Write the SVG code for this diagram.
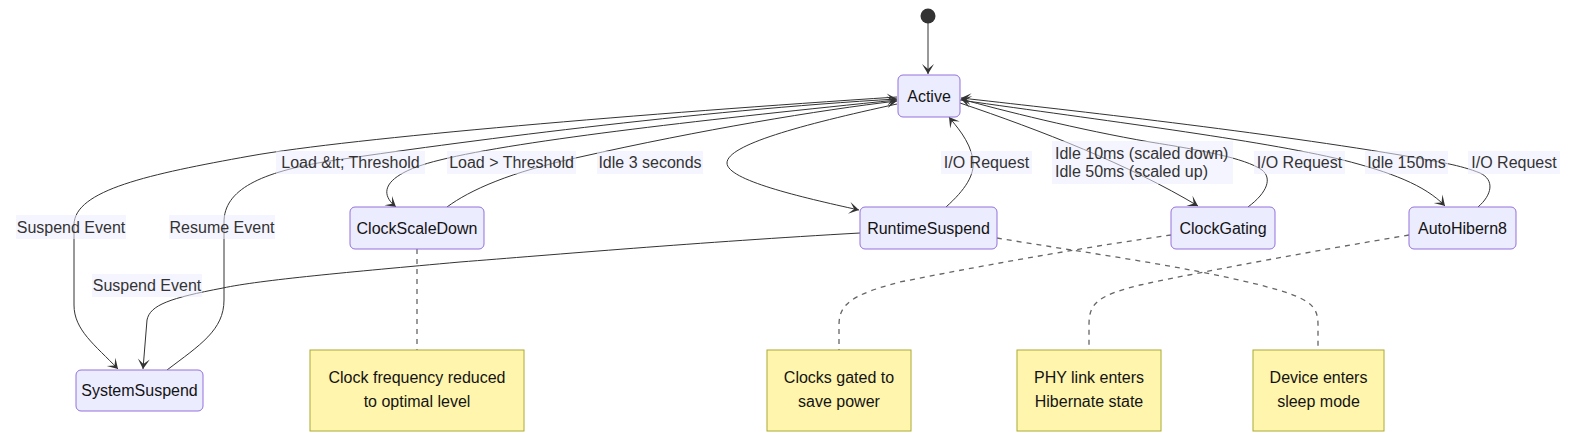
<svg xmlns="http://www.w3.org/2000/svg" width="1571" height="444" viewBox="0 0 1571 444">
<style>
.state rect{fill:#ECECFF;stroke:#9370DB;stroke-width:1}
.note rect{fill:#fff5ad;stroke:#aaaa33;stroke-width:1}
text{font-family:"Trebuchet MS","Liberation Sans",Arial,sans-serif;font-size:16px;dominant-baseline:central}
.state text,.note text{fill:#131313;text-anchor:middle}
.edge{fill:none;stroke:#333;stroke-width:1}
.notelink{fill:none;stroke:#666;stroke-width:1.3;stroke-dasharray:5,5}
.lbl rect{fill:#ECECFF;opacity:0.55}
.lbl text{fill:#333;text-anchor:middle}
</style>
<defs>
<marker id="arr" viewBox="0 0 20 14" refX="19" refY="7" markerWidth="20" markerHeight="14" markerUnits="userSpaceOnUse" orient="auto">
<path d="M19,7 L9,13 L14,7 L9,1 Z" fill="#333"/>
</marker>
</defs>
<g id="connectors">
<path class="edge" d="M928,23 L928,74" marker-end="url(#arr)"/>
<path class="edge" d="M897,97 C650,113 350,138 250,156 C150,174 74,190 74,225 L74,305 C74,330 95,345 118,369" marker-end="url(#arr)"/>
<path class="edge" d="M167,370 C200,345 224,330 224,300 L224,222 C224,190 260,172 330,161 C450,143 700,110 897,99" marker-end="url(#arr)"/>
<path class="edge" d="M897,100 C720,118 520,140 440,160 C390,172 375,190 396,207" marker-end="url(#arr)"/>
<path class="edge" d="M447,207 C470,190 510,172 580,157 C700,130 820,110 897,101" marker-end="url(#arr)"/>
<path class="edge" d="M897,104 C800,125 727,145 727,163 C727,180 800,197 859,210" marker-end="url(#arr)"/>
<path class="edge" d="M946,207 C965,190 975,175 973,160 C970,140 955,125 949,117" marker-end="url(#arr)"/>
<path class="edge" d="M960,103 C1040,130 1130,165 1198,206" marker-end="url(#arr)"/>
<path class="edge" d="M1248,207 C1268,192 1272,178 1262,170 C1245,158 1200,150 1150,142 C1080,130 1000,110 961,99" marker-end="url(#arr)"/>
<path class="edge" d="M960,100 C1100,120 1260,140 1343,160 C1390,172 1425,185 1445,206" marker-end="url(#arr)"/>
<path class="edge" d="M1478,207 C1492,195 1495,180 1480,173 C1460,165 1440,162 1400,155 C1250,130 1050,108 961,98" marker-end="url(#arr)"/>
<path class="edge" d="M860,233 C700,242 550,255 460,262 C350,272 260,280 223,288 C170,298 150,305 147,320 L143,369" marker-end="url(#arr)"/>
<path class="notelink" d="M417,249 L417,350"/>
<path class="notelink" d="M1171,235 C1100,245 1000,262 900,282 C850,295 839,305 839,325 L839,350"/>
<path class="notelink" d="M997,238 C1080,252 1180,265 1260,285 C1310,298 1318,305 1318,325 L1318,350"/>
<path class="notelink" d="M1409,235 C1320,250 1220,268 1140,285 C1095,296 1089,305 1089,325 L1089,350"/>
</g>
<g id="edge-labels">
<g class="lbl"><rect x="16" y="215" width="110" height="24"/><text x="71" y="227">Suspend Event</text></g>
<g class="lbl"><rect x="169" y="215" width="106" height="24"/><text x="222" y="227">Resume Event</text></g>
<g class="lbl"><rect x="92" y="274" width="110" height="23"/><text x="147" y="285.5">Suspend Event</text></g>
<g class="lbl"><rect x="276" y="151" width="149" height="23"/><text x="350.5" y="162.5">Load &amp;lt; Threshold</text></g>
<g class="lbl"><rect x="447" y="151" width="129" height="23"/><text x="511.5" y="162.5">Load &gt; Threshold</text></g>
<g class="lbl"><rect x="597" y="151" width="106" height="23"/><text x="650" y="162.5">Idle 3 seconds</text></g>
<g class="lbl"><rect x="941" y="151" width="91" height="23"/><text x="986.5" y="162.5">I/O Request</text></g>
<g class="lbl"><rect x="1052" y="141" width="181" height="43"/><text x="1055" y="153" style="text-anchor:start">Idle 10ms (scaled down)</text><text x="1055" y="171" style="text-anchor:start">Idle 50ms (scaled up)</text></g>
<g class="lbl"><rect x="1254" y="151" width="91" height="23"/><text x="1299.5" y="162.5">I/O Request</text></g>
<g class="lbl"><rect x="1365" y="151" width="83" height="23"/><text x="1406.5" y="162.5">Idle 150ms</text></g>
<g class="lbl"><rect x="1468" y="151" width="92" height="23"/><text x="1514" y="162.5">I/O Request</text></g>
</g>
<g id="start"><circle cx="928" cy="16" r="7.5" fill="#333"/></g>
<g id="Active" class="state"><rect x="898" y="75" width="62" height="42" rx="5"/><text x="929" y="96">Active</text></g>
<g id="ClockScaleDown" class="state"><rect x="350" y="207" width="134" height="42" rx="5"/><text x="417" y="228">ClockScaleDown</text></g>
<g id="RuntimeSuspend" class="state"><rect x="860" y="207" width="137" height="42" rx="5"/><text x="928.5" y="228">RuntimeSuspend</text></g>
<g id="ClockGating" class="state"><rect x="1171" y="207" width="104" height="42" rx="5"/><text x="1223" y="228">ClockGating</text></g>
<g id="AutoHibern8" class="state"><rect x="1409" y="207" width="107" height="42" rx="5"/><text x="1462.5" y="228">AutoHibern8</text></g>
<g id="SystemSuspend" class="state"><rect x="76" y="370" width="127" height="41" rx="5"/><text x="139.5" y="390.5">SystemSuspend</text></g>
<g id="note-ClockScaleDown" class="note"><rect x="310" y="350" width="214" height="81"/><text x="417" y="377">Clock frequency reduced</text><text x="417" y="401">to optimal level</text></g>
<g id="note-ClockGating" class="note"><rect x="767" y="350" width="144" height="81"/><text x="839" y="377">Clocks gated to</text><text x="839" y="401">save power</text></g>
<g id="note-AutoHibern8" class="note"><rect x="1017" y="350" width="144" height="81"/><text x="1089" y="377">PHY link enters</text><text x="1089" y="401">Hibernate state</text></g>
<g id="note-RuntimeSuspend" class="note"><rect x="1253" y="350" width="131" height="81"/><text x="1318.5" y="377">Device enters</text><text x="1318.5" y="401">sleep mode</text></g>
</svg>
